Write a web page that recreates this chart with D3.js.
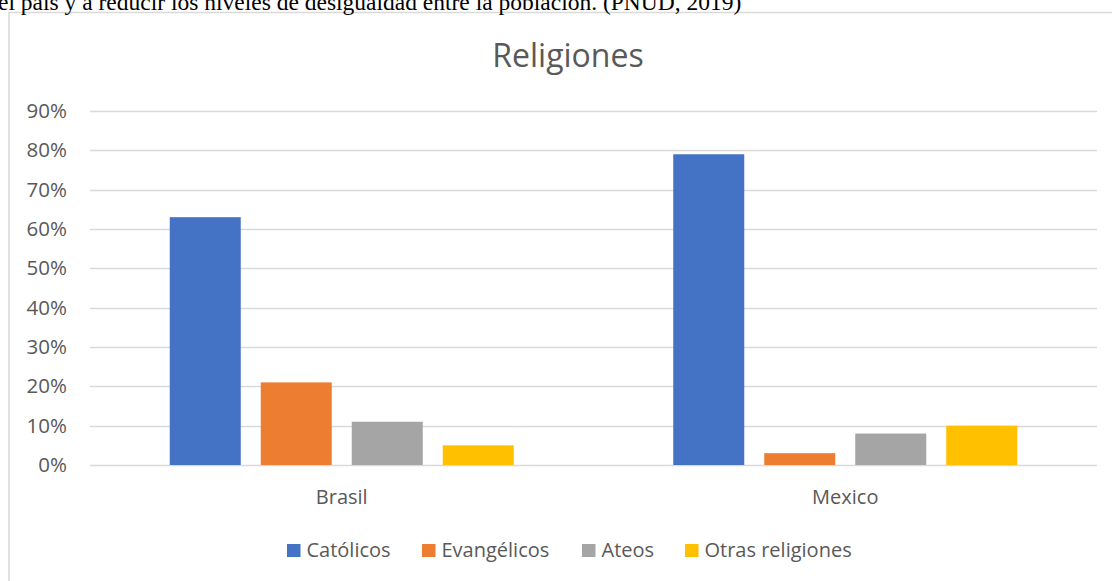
<!DOCTYPE html>
<html><head><meta charset="utf-8">
<script src="https://cdn.jsdelivr.net/npm/d3@7"></script>
<style>body{margin:0;background:#fff;overflow:hidden}</style>
</head><body>
<script>
const categories = ["Brasil", "Mexico"];
const seriesNames = ["Católicos", "Evangélicos", "Ateos", "Otras religiones"];
const seriesColors = ["#4472C4", "#ED7D31", "#A5A5A5", "#FFC000"];
const brasilValues = [0.63, 0.21, 0.11, 0.05];
const mexicoValues = [0.79, 0.03, 0.08, 0.10];
const yTicks = [0, 0.1, 0.2, 0.3, 0.4, 0.5, 0.6, 0.7, 0.8, 0.9];
const valuesByCategory = [brasilValues, mexicoValues];

const W = 1112, H = 581;
const svg = d3.select("body").append("svg").attr("width", W).attr("height", H);
const font = "'Open Sans', sans-serif";
const grey = "#595959";

// chart frame
svg.append("rect").attr("x", 9).attr("y", 12.5).attr("width", 1200).attr("height", 700)
  .attr("fill", "#fff").attr("stroke", "#d9d9d9").attr("stroke-width", 1.5);

// cut-off document text above the chart
svg.append("text").attr("x", -2).attr("y", 10)
  .attr("font-family", "'Liberation Serif', serif").attr("font-size", 23.5).attr("fill", "#000")
  .text("el país y a reducir los niveles de desigualdad entre la población. (PNUD, 2019)");

const pLeft = 90, pRight = 1097, pTop = 111, pBottom = 465;
const x = d3.scaleBand().domain(categories).range([pLeft, pRight]);
const y = d3.scaleLinear().domain([0, 0.9]).range([pBottom, pTop]);

svg.append("text").attr("x", 568).attr("y", 67).attr("text-anchor", "middle")
  .attr("font-family", font).attr("font-size", 32).attr("fill", grey).text("Religiones");

// gridlines
svg.append("g").selectAll("line").data(yTicks).join("line")
  .attr("x1", pLeft).attr("x2", pRight)
  .attr("y1", d => Math.round(y(d)) + 0.5).attr("y2", d => Math.round(y(d)) + 0.5)
  .attr("stroke", "#d9d9d9").attr("stroke-width", 1.5);

// y axis labels
const yAxis = d3.axisLeft(y).tickValues(yTicks).tickFormat(d3.format(".0%")).tickSize(0).tickPadding(0);
const ya = svg.append("g").attr("transform", `translate(67,0)`).call(yAxis);
ya.select(".domain").remove();
ya.selectAll("text").attr("font-family", font).attr("font-size", 20.5).attr("fill", grey);

// bars
const barW = 71, barStep = 91;
const inner = d3.scaleBand().domain(seriesNames).range([0, barStep * 4]).paddingInner(0);
const groups = svg.append("g").selectAll("g").data(categories).join("g")
  .attr("transform", (c) => `translate(${x(c) + x.bandwidth() / 2 - (barStep * 3 + barW) / 2},0)`);
groups.selectAll("rect").data((c, i) => valuesByCategory[i].map((v, j) => ({ v, s: seriesNames[j], j })))
  .join("rect")
  .attr("x", d => inner(d.s))
  .attr("width", barW)
  .attr("y", d => y(d.v))
  .attr("height", d => y(0) - y(d.v))
  .attr("fill", d => seriesColors[d.j]);

// x axis labels
const xAxis = d3.axisBottom(x).tickSize(0).tickPadding(0);
const xa = svg.append("g").attr("transform", `translate(0,504)`).call(xAxis);
xa.select(".domain").remove();
xa.selectAll("text").attr("dy", 0).attr("font-family", font).attr("font-size", 20).attr("fill", grey);

// legend
const legendX = [287, 422, 582, 685];
const lg = svg.append("g").selectAll("g").data(seriesNames).join("g")
  .attr("transform", (d, i) => `translate(${legendX[i]},0)`);
lg.append("rect").attr("x", 0).attr("y", 544).attr("width", 13.5).attr("height", 13).attr("fill", (d, i) => seriesColors[i]);
lg.append("text").attr("x", 19.5).attr("y", 557).attr("font-family", font).attr("font-size", 20).attr("fill", grey).text(d => d);
</script>
</body></html>
